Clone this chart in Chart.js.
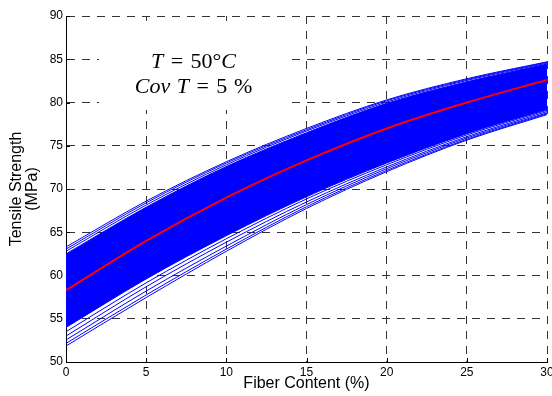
<!DOCTYPE html>
<html>
<head>
<meta charset="utf-8">
<script src="https://cdn.jsdelivr.net/npm/chart.js@4.4.1/dist/chart.umd.min.js"></script>
<style>
  html, body { margin: 0; padding: 0; background: #fff; }
  canvas { display: block; }
</style>
</head>
<body>
<canvas id="chart" width="552" height="396"></canvas>
<script>
// Fiber content (%) at which the strength curves are sampled
const fiberContent = [0, 5, 10, 15, 20, 25, 30];

// Mean tensile strength (MPa)
const meanStrength = [58.3, 64.0, 69.0, 73.3, 77.0, 80.0, 82.6];

// Dense core of the simulated curves: upper and lower envelope (MPa)
const coreUpper = [62.5, 67.9, 72.6, 76.5, 79.9, 82.4, 84.45];
const coreLower = [54.0, 59.6, 64.6, 69.1, 73.0, 76.4, 79.2];

// Individual simulated curves lying just above the core
const upperCurveA = [62.8, 68.15, 72.8, 76.7, 80.05, 82.55, 84.55];
const upperCurveB = [63.05, 68.4, 73.0, 76.85, 80.2, 82.65, 84.65];
const upperCurveC = [63.3, 68.6, 73.15, 77.0, 80.3, 82.75, 84.7];

// Individual simulated curves lying just below the core
const lowerCurveA = [53.5, 59.15, 64.25, 68.85, 72.8, 76.25, 79.1];
const lowerCurveB = [53.0, 58.7, 63.85, 68.5, 72.55, 76.05, 78.95];
const lowerCurveC = [52.55, 58.2, 63.4, 68.2, 72.35, 75.9, 78.8];
const lowerCurveD = [52.15, 57.75, 63.05, 67.95, 72.15, 75.75, 78.7];
const lowerCurveE = [51.85, 57.45, 62.8, 67.75, 72.0, 75.65, 78.6];

// Axis ticks
const xTicks = [0, 5, 10, 15, 20, 25, 30];
const yTicks = [50, 55, 60, 65, 70, 75, 80, 85, 90];

const toPoints = arr => fiberContent.map((x, i) => ({ x: x, y: arr[i] }));

const BLUE = '#0000ff';
const RED = '#ff0000';

function curve(values) {
  return {
    data: toPoints(values),
    borderColor: BLUE,
    borderWidth: 1,
    pointRadius: 0,
    fill: false,
    cubicInterpolationMode: 'monotone',
    order: 1
  };
}

const datasets = [
  {
    data: toPoints(meanStrength),
    borderColor: RED,
    borderWidth: 2,
    pointRadius: 0,
    fill: false,
    cubicInterpolationMode: 'monotone',
    order: 0
  },
  {
    data: toPoints(coreLower),
    borderColor: BLUE,
    borderWidth: 1,
    pointRadius: 0,
    fill: false,
    cubicInterpolationMode: 'monotone',
    order: 2
  },
  {
    data: toPoints(coreUpper),
    borderColor: BLUE,
    borderWidth: 1,
    pointRadius: 0,
    backgroundColor: BLUE,
    fill: 1,
    cubicInterpolationMode: 'monotone',
    order: 2
  },
  curve(upperCurveA), curve(upperCurveB), curve(upperCurveC),
  curve(lowerCurveA), curve(lowerCurveB), curve(lowerCurveC),
  curve(lowerCurveD), curve(lowerCurveE)
];

// White note box with the test conditions, drawn over the grid
const noteBox = {
  id: 'noteBox',
  beforeDatasetsDraw(chart) {
    const ctx = chart.ctx;
    ctx.save();
    ctx.fillStyle = '#ffffff';
    ctx.fillRect(99, 21, 191, 89);

    const size = 22;
    const it = `italic ${size}px "Liberation Serif", serif`;
    const up = `${size}px "Liberation Serif", serif`;
    const thick = size * 0.34;
    const lines = [
      { y: 68, parts: [['T', it], [thick], ['=', up], [thick], ['50°', up], ['C', it]] },
      { y: 93, parts: [['Cov', it], [size * 0.3], ['T', it], [thick], ['=', up], [thick], ['5', up], [size * 0.3], ['%', up]] }
    ];
    ctx.fillStyle = '#000';
    ctx.textBaseline = 'alphabetic';
    ctx.textAlign = 'left';
    lines.forEach(line => {
      let w = 0;
      line.parts.forEach(p => {
        if (p.length === 1) { w += p[0]; }
        else { ctx.font = p[1]; w += ctx.measureText(p[0]).width; }
      });
      let x = 193.5 - w / 2;
      line.parts.forEach(p => {
        if (p.length === 1) { x += p[0]; return; }
        ctx.font = p[1];
        ctx.fillText(p[0], x, line.y);
        x += ctx.measureText(p[0]).width;
      });
    });
    ctx.restore();
  }
};

// Short tick marks pointing into the plot area
const innerTicks = {
  id: 'innerTicks',
  beforeDatasetsDraw(chart) {
    const { ctx, chartArea, scales } = chart;
    ctx.save();
    ctx.strokeStyle = '#000';
    ctx.lineWidth = 1;
    ctx.beginPath();
    xTicks.forEach(v => {
      const px = Math.round(scales.x.getPixelForValue(v)) + 0.5;
      ctx.moveTo(px, chartArea.bottom);
      ctx.lineTo(px, chartArea.bottom - 4);
    });
    yTicks.forEach(v => {
      const py = Math.round(scales.y.getPixelForValue(v)) + 0.5;
      ctx.moveTo(chartArea.left, py);
      ctx.lineTo(chartArea.left + 4, py);
    });
    ctx.stroke();
    ctx.restore();
  }
};

const tickFont = { family: '"Liberation Sans", Arial, sans-serif', size: 12 };
const titleFont = { family: '"Liberation Sans", Arial, sans-serif', size: 16 };

new Chart(document.getElementById('chart'), {
  type: 'line',
  data: { datasets: datasets },
  plugins: [noteBox, innerTicks],
  options: {
    responsive: false,
    devicePixelRatio: 1,
    animation: false,
    events: [],
    layout: { padding: { top: 16, right: 5, left: 0, bottom: 0 } },
    plugins: {
      legend: { display: false },
      tooltip: { enabled: false }
    },
    scales: {
      x: {
        type: 'linear',
        min: 0,
        max: 30,
        afterBuildTicks: s => { s.ticks = xTicks.map(v => ({ value: v })); },
        afterFit: s => { s.height = 34; s.paddingLeft = 0; s.paddingRight = 0; },
        ticks: { font: tickFont, color: '#000', padding: 3, maxRotation: 0, autoSkip: false },
        grid: { color: '#333', lineWidth: 1, drawTicks: false },
        border: { display: true, color: '#000', width: 1, dash: [8, 7] },
        title: {
          display: true,
          text: 'Fiber Content (%)',
          font: Object.assign({ lineHeight: 1.2 }, titleFont),
          color: '#000',
          padding: { top: 0, bottom: 3 }
        }
      },
      y: {
        type: 'linear',
        min: 50,
        max: 90,
        afterBuildTicks: s => { s.ticks = yTicks.map(v => ({ value: v })); },
        afterFit: s => { s.width = 66; s.paddingTop = 0; s.paddingBottom = 0; },
        ticks: { font: tickFont, color: '#000', padding: 3, autoSkip: false },
        grid: { color: '#333', lineWidth: 1, drawTicks: false },
        border: { display: true, color: '#000', width: 1, dash: [8, 7] },
        title: {
          display: true,
          text: ['Tensile Strength', '(MPa)'],
          font: Object.assign({ lineHeight: 1.0 }, titleFont),
          color: '#000',
          padding: { top: 9, bottom: 0 }
        }
      }
    }
  }
});
</script>
</body>
</html>
